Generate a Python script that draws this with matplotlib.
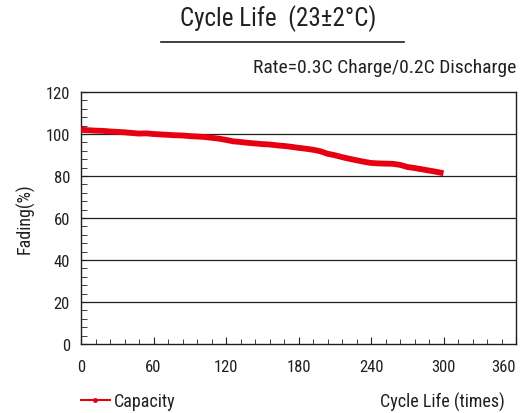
import matplotlib
matplotlib.use("Agg")
import matplotlib.pyplot as plt
from matplotlib.lines import Line2D
from matplotlib.ticker import MultipleLocator

plt.rcParams['font.family'] = ['Roboto Condensed', 'Liberation Sans', 'DejaVu Sans']

# capacity retention
cycles = [0, 6, 12, 18, 24, 30, 36, 42, 48, 54, 60, 66, 72, 78, 84, 90, 96, 102,
          108, 114, 120, 126, 132, 138, 144, 150, 156, 162, 168, 174, 180, 186,
          192, 198, 204, 210, 216, 222, 228, 234, 240, 246, 252, 258, 264, 270,
          276, 282, 288, 294, 300]
fading = [102.0, 101.8, 101.6, 101.5, 101.2, 101.0, 100.8, 100.5, 100.2, 100.3,
          100.0, 99.8, 99.6, 99.4, 99.3, 99.0, 98.8, 98.6, 98.2, 97.8, 97.2, 96.5,
          96.2, 95.8, 95.5, 95.2, 95.0, 94.6, 94.3, 93.9, 93.4, 93.0, 92.5, 91.8,
          90.6, 89.9, 89.0, 88.2, 87.5, 86.8, 86.2, 86.0, 85.9, 85.8, 85.3, 84.3,
          83.8, 83.2, 82.6, 82.0, 81.3]
xticks = [0, 60, 120, 180, 240, 300, 360]
yticks = [0, 20, 40, 60, 80, 100, 120]
red = '#e60012'
ink = '#231f20'

W, H = 523, 414
fig = plt.figure(figsize=(W / 100, H / 100), dpi=100)
ax = fig.add_axes([81 / W, 1 - 345 / H, (516 - 81) / W, (345 - 93) / H])

for y in yticks[1:-1]:
    ax.axhline(y, color=ink, lw=0.9, zorder=1)
ax.plot(cycles, fading, color=red, lw=4.2, solid_capstyle='butt', zorder=3)

ax.set_xlim(0, 360)
ax.set_ylim(0, 120)
ax.set_xticks(xticks)
ax.set_yticks(yticks)
ax.xaxis.set_minor_locator(MultipleLocator(12))
ax.yaxis.set_minor_locator(MultipleLocator(4))
ax.tick_params(which='both', direction='in', color=ink, labelsize=12,
               labelcolor=ink)
ax.tick_params(axis='x', which='major', length=5, pad=11)
ax.tick_params(axis='x', which='minor', length=3.5)
ax.tick_params(axis='y', which='major', length=4, pad=8)
ax.tick_params(axis='y', which='minor', length=4)
ax.get_xticklabels()[-1].set_horizontalalignment('right')
for s in ax.spines.values():
    s.set_linewidth(1.0)
    s.set_color(ink)

ax.set_ylabel('Fading(%)', fontsize=13, color=ink, labelpad=8)

fig.text(278 / W, 1 - 19 / H, 'Cycle Life  (23\u00b12\u00b0C)', ha='center', va='center',
         fontsize=18, color=ink)
fig.add_artist(Line2D([161 / W, 404 / W], [1 - 43 / H, 1 - 43 / H],
                      transform=fig.transFigure, color=ink, lw=1.2))
fig.text(516 / W, 1 - 68 / H, 'Rate=0.3C Charge/0.2C Discharge', ha='right', va='center',
         fontsize=14, color=ink)

handle = Line2D([], [], color=red, lw=1.5, marker='o', markersize=2.5)
fig.legend([handle], ['Capacity'], loc='center left', bbox_to_anchor=(81 / W, 1 - 402 / H),
           frameon=False, borderpad=0, borderaxespad=0, handlelength=1.6,
           handletextpad=0.2, fontsize=13, labelcolor=ink)
fig.text(505 / W, 1 - 402 / H, 'Cycle Life (times)', ha='right', va='center',
         fontsize=13, color=ink)

fig.savefig('out.png', dpi=100)
